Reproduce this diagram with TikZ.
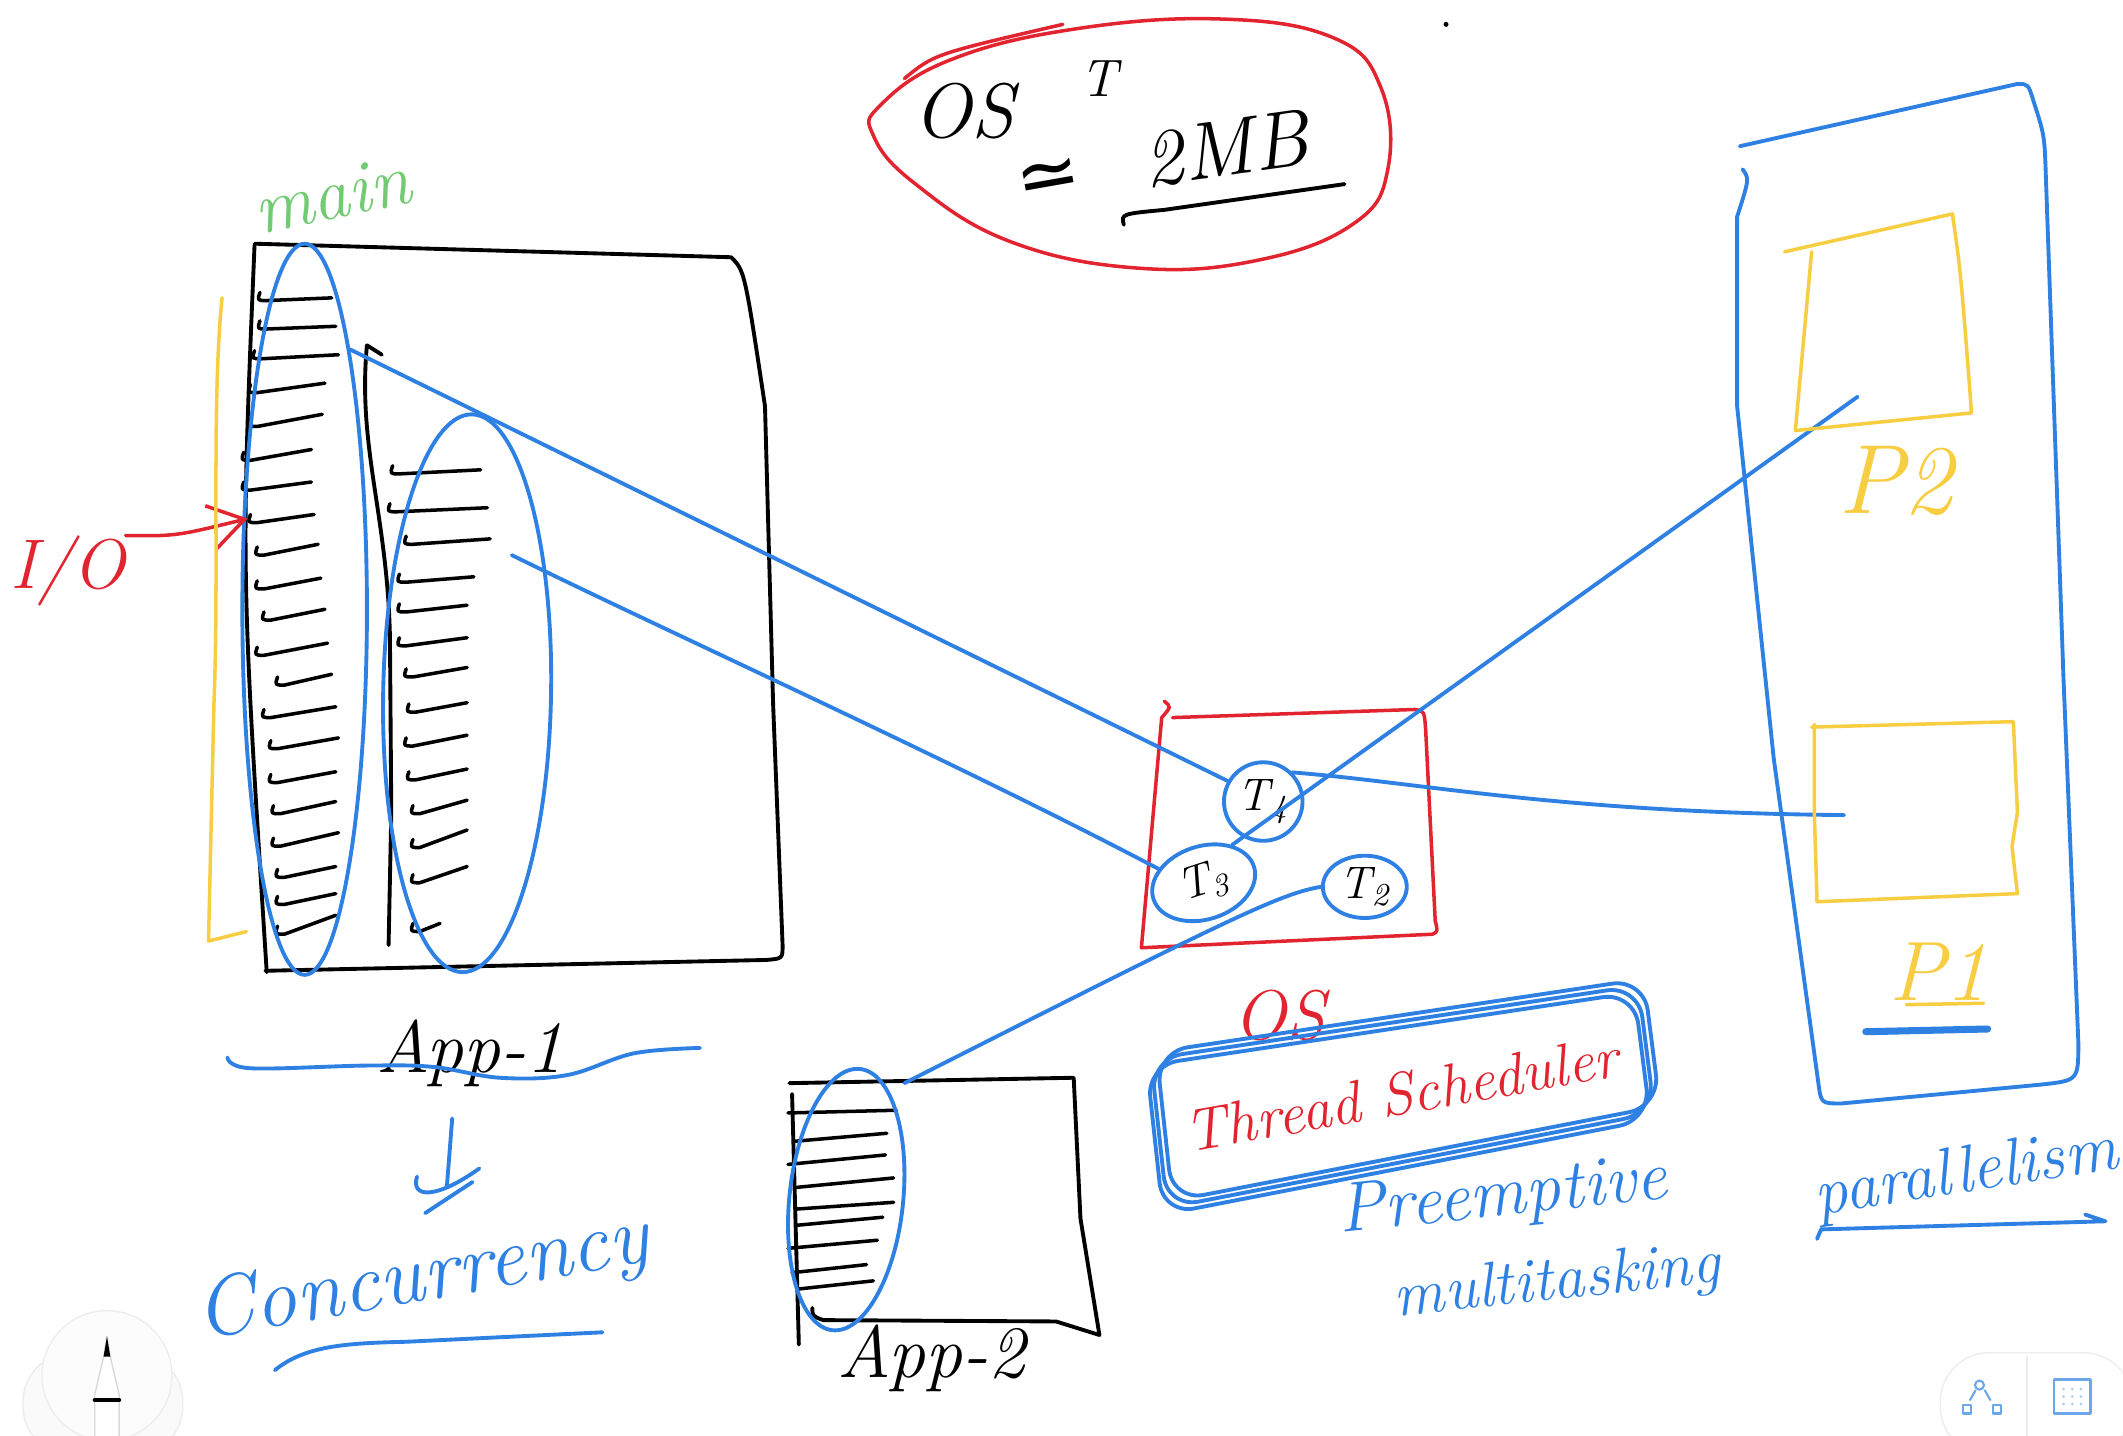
\documentclass[tikz,border=0pt]{standalone}
\usepackage{fontspec}
\usetikzlibrary{calc}
\usetikzlibrary{shapes}
\usetikzlibrary{arrows.meta}

\newfontfamily\symfont{DejaVu Sans}

\definecolor{penblue}{RGB}{46,128,226}
\definecolor{penred}{RGB}{226,36,48}
\definecolor{penyellow}{RGB}{247,205,66}
\definecolor{pengreen}{RGB}{114,202,114}

\newcommand{\upx}{0.1354mm}
\newcommand{\handfont}[1]{\itshape\fontsize{#1}{#1}\selectfont}

\begin{document}
\begin{tikzpicture}[x=0.1354mm, y=-0.1354mm, line cap=round, line join=round]

  \useasboundingbox (0,0) rectangle (1568,1060);

  \path
     coordinate (threadone)  at (225,450)
     coordinate (threadtwo)  at (345,512)
     coordinate (tfour)      at (933,592)
     coordinate (tthree)     at (889,652)
     coordinate (ttwo)       at (1008,655)
     coordinate (apptwo)     at (625,886)
     coordinate (twostart)   at (378,410)
     coordinate (ptwoin)     at (1372,293)
     coordinate (ponein)     at (1362,602)
     coordinate (apptwotop)  at (668,800)
     coordinate (iotip)      at (183,383)
    ;

  \tikzset{blackink/.style = {draw=black, line width=1.1pt}}
  \tikzset{blueink/.style = {draw=penblue, line width=1.1pt}}
  \tikzset{redink/.style = {draw=penred, line width=1pt}}
  \tikzset{yellowink/.style = {draw=penyellow, line width=1pt}}
  \tikzset{handtext/.style = {inner sep=0pt, font=\handfont{20}}}

  % Thread size bubble
  \path [redink] plot [smooth cycle, tension=0.7] coordinates
    {(650,78) (700,45) (790,22) (900,14) (985,28) (1020,65) (1025,125)
     (1000,165) (930,192) (840,198) (745,178) (675,135) (645,100)};
  \path [redink] (668,58) .. controls (690,40) .. (785,18);
  \node [handtext, font=\handfont{22}] (Os) at (712,82) {OS};
  \node [handtext, font=\handfont{15}] (Tee) at (812,58) {T};
  \node [handtext, font=\symfont\fontsize{22}{22}\selectfont, rotate=10] (Approx) at (775,134) {≃};
  \node [handtext, font=\handfont{23}, rotate=8] (Twomb) at (905,110) {2MB};
  \path [blackink] (830,166) .. controls (828,158) .. (860,155) -- (993,136);
  \fill (1068,18) circle (0.25mm);

  % Main thread
  \node [handtext, font=\handfont{21}, text=pengreen, rotate=12] (Main) at (245,144) {main};

  % App-1 box
  \path [blackink] (188,180) -- (540,190) .. controls (550,200) .. (565,300)
    -- (571,520) -- (578,698) .. controls (578,708) .. (566,709) -- (196,717);
  \path [blackink] (188,181) .. controls (178,420) .. (197,718);
  \path [blackink] (282,262) -- (271,255) .. controls (264,330) and (286,380) .. (288,470)
    -- (289,600) -- (287,698);

  % Instructions of the two threads
  \foreach \xa/\ya/\xb/\yb in {192/222/245/220, 192/243/248/241, 188/265/250/262,
      185/290/240/283, 185/315/238/306, 180/340/230/332, 180/362/230/356,
      185/386/232/380, 190/410/235/402, 190/435/237/427, 195/458/240/450,
      190/484/242/475, 205/506/245/498, 195/530/248/522, 200/553/250/545,
      200/578/248/570, 202/601/248/592, 202/625/250/615, 205/648/248/640,
      205/668/248/660, 205/690/248/676,
      290/350/355/347, 288/378/360/375, 300/402/362/398, 295/430/350/426,
      295/452/345/447, 295/477/345/471, 300/500/345/493, 302/526/345/519,
      300/551/345/543, 302/576/345/568, 305/601/345/591, 305/626/345/613,
      305/652/345/640, 305/688/325/682}
    \path [blackink, line width=1pt] (\xa,\ya-6) .. controls (\xa-2,\ya) .. (\xa+5,\ya) -- (\xb,\yb);

  \tikzset{threadring/.style = {blueink, shape=ellipse, inner sep=0pt}}
  \node [threadring, minimum width=92*\upx, minimum height=540*\upx] (Threadone) at (threadone) {};
  \node [threadring, minimum width=124*\upx, minimum height=412*\upx, rotate=-1] (Threadtwo) at (threadtwo) {};

  % I/O
  \node [handtext, font=\handfont{20}, text=penred] (Io) at (50,422) {I/O};
  \path [redink, -{Straight Barb[length=3.5mm, width=4.5mm]}] (Io.north east) .. controls (130,396) .. (iotip);
  \path [yellowink] (164,220) .. controls (156,300) and (162,420) .. (158,520) -- (154,695) -- (182,688);

  % App-1 and concurrency
  \node [handtext, font=\handfont{21}] (Appone) at (347,778) {App-1};
  \path [blueink] plot [smooth, tension=0.6] coordinates
    {(168,781) (185,789) (271,787) (320,788) (369,796) (419,794) (468,778) (517,774)};
  \path [blueink] (334,826) -- (330,877);
  \path [blueink] (308,869) .. controls (303,885) and (322,886) .. (354,863);
  \path [blueink] (314,896) -- (349,873);
  \node [handtext, font=\handfont{24}, text=penblue, rotate=10] (Concurrency) at (312,945) {Concurrency};
  \path [blueink] (203,1012) .. controls (225,994) and (255,992) .. (300,991) -- (445,984);

  % App-2 box
  \path [blackink] (583,800) -- (793,796) -- (798,900) -- (812,986) -- (780,976) -- (608,975)
    .. controls (600,972) .. (600,966);
  \path [blackink] (585,808) -- (590,993);
  \foreach \xa/\ya/\xb/\yb in {582/822/662/820, 586/843/655/837, 582/860/654/853,
      588/877/660/870, 588/893/660/888, 588/905/652/899, 582/922/648/916,
      585/940/640/934, 590/952/645/946}
    \path [blackink, line width=1pt] (\xa,\ya) -- (\xb,\yb);
  \node [threadring, minimum width=84*\upx, minimum height=194*\upx, rotate=-6] (Apptworing) at (apptwo) {};
  \node [handtext, font=\handfont{21}] (Apptwo) at (688,1003) {App-2};

  % Threads inside the OS
  \path [redink] (860,518) .. controls (865,522) .. (858,530) -- (843,700) -- (1058,690)
    .. controls (1062,688) .. (1060,680) -- (1053,540) .. controls (1052,525) .. (1045,524) -- (866,530);
  \node [threadring, circle, minimum size=58*\upx, font=\handfont{13}] (Tfour) at (tfour) {T\textsubscript{4}};
  \node [threadring, minimum width=78*\upx, minimum height=54*\upx, rotate=18, font=\handfont{13}] (Tthree) at (tthree) {T\textsubscript{3}};
  \node [threadring, minimum width=62*\upx, minimum height=46*\upx, font=\handfont{13}] (Ttwo) at (ttwo) {T\textsubscript{2}};

  % Connecting lines
  \path [blueink] (Threadone.north east) -- (Tfour.150);
  \path [blueink] (twostart) .. controls (500,470) and (700,560) .. (Tthree.north west);
  \path [blueink] (ptwoin) -- (Tthree.north east);
  \path [blueink] (Tfour.north east) .. controls (1050,578) and (1150,600) .. (ponein);
  \path [blueink] (Ttwo.west) .. controls (945,660) and (905,680) .. (apptwotop);

  % Scheduler
  \node [handtext, font=\handfont{20}, text=penred] (Osred) at (945,750) {OS};
  \foreach \ox/\oy in {0/0, 4/-5, -3/5}
    \path [blueink, rounded corners=9, shift={(\ox,\oy)}] (850,782) -- (1210,728) -- (1222,822) -- (862,892) -- cycle;
  \node [handtext, font=\handfont{17}, text=penred, rotate=10] (Scheduler) at (1035,808) {Thread Scheduler};
  \node [handtext, font=\handfont{20}, text=penblue, rotate=6] (Preemptive) at (1110,885) {Preemptive};
  \node [handtext, font=\handfont{18}, text=penblue, rotate=6] (Multitasking) at (1150,948) {multitasking};

  % Cores
  \path [blueink] (1285,108) -- (1490,62) .. controls (1498,62) .. (1502,75) .. controls (1510,100) .. (1511,130)
    -- (1524,500) -- (1535,770) .. controls (1535,798) .. (1508,801) -- (1360,815)
    .. controls (1345,815) .. (1343,800) -- (1310,560) -- (1283,300) -- (1283,160)
    .. controls (1292,132) .. (1287,125);
  \path [yellowink] (1318,186) -- (1442,158) .. controls (1448,200) .. (1455,290) -- (1456,305) -- (1326,318) -- (1338,186);
  \node [handtext, font=\handfont{28}, text=penyellow] (Ptwo) at (1400,355) {P2};
  \path [yellowink] (1338,537) -- (1487,533) -- (1490,600) -- (1486,625) -- (1490,660) -- (1342,666) -- (1340,600) -- (1340,535);
  \node [handtext, font=\handfont{24}, text=penyellow] (Pone) at (1432,718) {P1};
  \path [yellowink] (1408,742) -- (1465,741);
  \path [blueink, line width=2pt] (1378,762) -- (1468,760);
  \node [handtext, font=\handfont{19}, text=penblue, rotate=9] (Parallelism) at (1452,868) {parallelism};
  \path [blueink] (1342,915) -- (1345,908) -- (1555,902) -- (1540,897);

  % Screen controls
  \tikzset{chrome/.style = {draw=gray!14, fill=gray!4}}
  \path [chrome, rounded corners=14] (17,999) rectangle (135,1075);
  \path [chrome, fill=gray!2] (79,1016) circle (6.5mm);
  \path [draw=gray!30, fill=white] (70,1065) -- (70,1030) -- (77,1000) -- (79,987) -- (81,1000) -- (88,1030) -- (88,1065);
  \fill (76.5,1002) -- (79,987) -- (81.5,1002) -- cycle;
  \draw [line width=1.2pt] (70,1034) -- (88,1034);
  \path [chrome, fill=white, rounded corners=14] (1433,999) rectangle (1575,1075);
  \draw [gray!15] (1497,1002) -- (1497,1062);
  \draw [penblue!70, line width=0.6pt] (1462,1023) circle (0.45mm);
  \draw [penblue!70, line width=0.6pt] (1450,1038) rectangle (1456,1044);
  \draw [penblue!70, line width=0.6pt] (1472,1038) rectangle (1478,1044);
  \draw [penblue!70, line width=0.6pt] (1455,1034) -- (1459,1027) (1466,1027) -- (1470,1034);
  \draw [penblue!70, line width=0.8pt] (1517,1019) rectangle (1544,1044);
  \foreach \gx in {1524,1530.5,1537}
    \foreach \gy in {1026,1031.5,1037}
      \fill [penblue!40] (\gx,\gy) circle (0.15mm);

\end{tikzpicture}
\end{document}
